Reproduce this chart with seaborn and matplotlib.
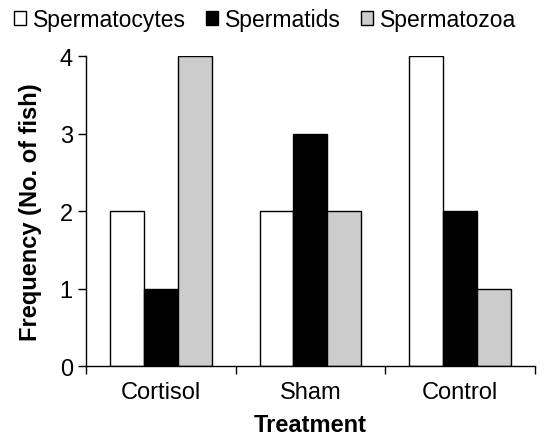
import matplotlib
matplotlib.use("Agg")
import matplotlib.pyplot as plt
from matplotlib.patches import Patch
import seaborn as sns
import pandas as pd

treatments = ["Cortisol", "Sham", "Control"]
stages = ["Spermatocytes", "Spermatids", "Spermatozoa"]
spermatocytes = [2, 2, 4]
spermatids = [1, 3, 2]
spermatozoa = [4, 2, 1]
colors = ["#ffffff", "#000000", "#cccccc"]

df = pd.DataFrame({
    "Treatment": treatments * 3,
    "Stage": [s for s in stages for _ in treatments],
    "Count": spermatocytes + spermatids + spermatozoa,
})

sns.set_style("ticks")
plt.rcParams["font.family"] = ["Liberation Sans", "DejaVu Sans"]
plt.rcParams["text.color"] = "black"
plt.rcParams["axes.labelcolor"] = "black"
plt.rcParams["xtick.color"] = "black"
plt.rcParams["ytick.color"] = "black"

fig = plt.figure(figsize=(5.48, 4.39), dpi=100)
ax = fig.add_axes([0.157, 0.164, 0.819, 0.706])

sns.barplot(data=df, x="Treatment", y="Count", hue="Stage", order=treatments,
            hue_order=stages, palette=colors, width=0.68, edgecolor="black",
            linewidth=1.0, ax=ax, legend=False)

ax.set_ylim(0, 4)
ax.set_xlim(-0.5, 2.5)
ax.set_yticks([0, 1, 2, 3, 4])
ax.set_xticks([-0.5, 0.5, 1.5, 2.5])
ax.set_xticklabels([])
ax.set_xticks([0, 1, 2], minor=True)
ax.set_xticklabels(treatments, minor=True, fontsize=17)
ax.tick_params(axis="x", which="minor", length=0, pad=11)
ax.tick_params(axis="x", which="major", length=6, width=1, direction="out")
ax.tick_params(axis="y", length=6, width=1, labelsize=17, direction="out")
sns.despine(ax=ax)
for side in ["left", "bottom"]:
    ax.spines[side].set_linewidth(1)
    ax.spines[side].set_color("black")

ax.set_xlabel("Treatment", fontsize=17, fontweight="bold", labelpad=7)
ax.set_ylabel("Frequency (No. of fish)", fontsize=17, fontweight="bold", labelpad=13)

handles = [Patch(facecolor=c, edgecolor="black", linewidth=1.0, label=s)
           for c, s in zip(colors, stages)]
fig.legend(handles=handles, loc="upper left", bbox_to_anchor=(-0.004, 1.015),
           ncol=3, frameon=False, fontsize=16.5, handlelength=0.55,
           handleheight=0.55, handletextpad=0.3, columnspacing=0.85,
           borderaxespad=0.3)

fig.savefig("out.png", dpi=100)
